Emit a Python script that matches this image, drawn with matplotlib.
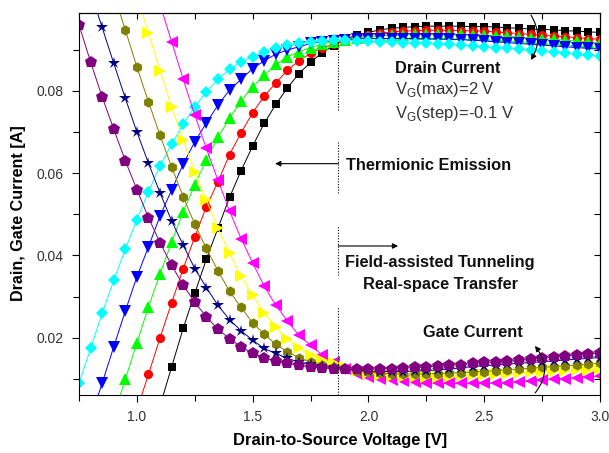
import numpy as np
import matplotlib
matplotlib.use("Agg")
import matplotlib.pyplot as plt
from matplotlib.ticker import MultipleLocator, FormatStrFormatter

# ---------------- data ----------------
vds = [0.75, 0.80, 0.85, 0.90, 0.95, 1.00, 1.05, 1.10, 1.15, 1.20, 1.25, 1.30,
       1.35, 1.40, 1.45, 1.50, 1.55, 1.60, 1.65, 1.70, 1.75, 1.80, 1.85, 1.90,
       1.95, 2.00, 2.05, 2.10, 2.15, 2.20, 2.25, 2.30, 2.35, 2.40, 2.45, 2.50,
       2.55, 2.60, 2.65, 2.70, 2.75, 2.80, 2.85, 2.90, 2.95, 3.00]

# drain currents (values start at the given start voltage)
drain_black_start = 1.10
drain_black = [0.0035, 0.0129, 0.0223, 0.0308, 0.0391, 0.0466, 0.0541, 0.0606, 0.0666,
               0.0721, 0.0767, 0.0807, 0.0842, 0.0869, 0.0893, 0.0909, 0.0926, 0.0935,
               0.0942, 0.0948, 0.0952, 0.0954, 0.0956, 0.0957, 0.0957, 0.0957, 0.0957,
               0.0956, 0.0956, 0.0955, 0.0953, 0.0952, 0.0950, 0.0949, 0.0948, 0.0946,
               0.0945, 0.0943, 0.0942]
drain_red_start = 1.00
drain_red = [0.0025, 0.0111, 0.0200, 0.0285, 0.0368, 0.0445, 0.0518, 0.0579, 0.0645,
             0.0698, 0.0747, 0.0787, 0.0819, 0.0850, 0.0873, 0.0891, 0.0905, 0.0913,
             0.0924, 0.0931, 0.0936, 0.0940, 0.0943, 0.0945, 0.0946, 0.0947, 0.0947,
             0.0947, 0.0946, 0.0946, 0.0945, 0.0943, 0.0941, 0.0939, 0.0937, 0.0935,
             0.0933, 0.0931, 0.0929, 0.0927, 0.0925]
drain_green_start = 0.90
drain_green = [0.0012, 0.0099, 0.0188, 0.0275, 0.0355, 0.0433, 0.0506, 0.0572, 0.0632,
               0.0687, 0.0733, 0.0776, 0.0810, 0.0838, 0.0864, 0.0883, 0.0895, 0.0905,
               0.0913, 0.0919, 0.0924, 0.0928, 0.0931, 0.0933, 0.0935, 0.0936, 0.0937,
               0.0937, 0.0937, 0.0937, 0.0937, 0.0936, 0.0935, 0.0934, 0.0932, 0.0931,
               0.0929, 0.0927, 0.0925, 0.0923, 0.0921, 0.0919, 0.0917]
drain_blue_start = 0.80
drain_blue = [0.0005, 0.0090, 0.0178, 0.0265, 0.0348, 0.0421, 0.0496, 0.0559, 0.0622,
              0.0676, 0.0722, 0.0765, 0.0802, 0.0828, 0.0854, 0.0873, 0.0889, 0.0899,
              0.0907, 0.0915, 0.0919, 0.0922, 0.0924, 0.0926, 0.0927, 0.0927, 0.0927,
              0.0927, 0.0927, 0.0926, 0.0926, 0.0925, 0.0924, 0.0923, 0.0921, 0.0919,
              0.0917, 0.0915, 0.0913, 0.0911, 0.0909, 0.0907, 0.0905, 0.0903, 0.0901]
drain_cyan_start = 0.75
drain_cyan = [0.0089, 0.0174, 0.0259, 0.0340, 0.0415, 0.0487, 0.0555, 0.0618, 0.0670,
              0.0719, 0.0761, 0.0798, 0.0828, 0.0852, 0.0870, 0.0883, 0.0895, 0.0905,
              0.0911, 0.0915, 0.0919, 0.0922, 0.0923, 0.0923, 0.0922, 0.0921, 0.0919,
              0.0918, 0.0917, 0.0916, 0.0915, 0.0914, 0.0913, 0.0911, 0.0909, 0.0907,
              0.0905, 0.0903, 0.0901, 0.0899, 0.0897, 0.0894, 0.0892, 0.0889, 0.0886,
              0.0884]

# gate currents
gate_magenta_start = 1.10
gate_magenta = [0.1010, 0.0919, 0.0828, 0.0741, 0.0660, 0.0583, 0.0508, 0.0441, 0.0382,
                0.0325, 0.0279, 0.0241, 0.0206, 0.0182, 0.0158, 0.0141, 0.0125, 0.0112,
                0.0105, 0.0100, 0.0097, 0.0094, 0.0092, 0.0091, 0.0090, 0.0089, 0.0089,
                0.0089, 0.0089, 0.0090, 0.0091, 0.0093, 0.0095, 0.0097, 0.0099, 0.0101,
                0.0103, 0.0105, 0.0107]
gate_yellow_start = 1.00
gate_yellow = [0.1031, 0.0940, 0.0849, 0.0761, 0.0680, 0.0603, 0.0534, 0.0466, 0.0406,
               0.0350, 0.0303, 0.0260, 0.0226, 0.0196, 0.0174, 0.0158, 0.0146, 0.0139,
               0.0128, 0.0120, 0.0114, 0.0110, 0.0107, 0.0105, 0.0104, 0.0104, 0.0104,
               0.0105, 0.0107, 0.0109, 0.0110, 0.0111, 0.0113, 0.0114, 0.0116, 0.0117,
               0.0119, 0.0120, 0.0121, 0.0122, 0.0124]
gate_olive_start = 0.90
gate_olive = [0.1035, 0.0948, 0.0858, 0.0773, 0.0692, 0.0615, 0.0543, 0.0476, 0.0417,
              0.0363, 0.0313, 0.0274, 0.0236, 0.0209, 0.0184, 0.0166, 0.0152, 0.0141,
              0.0133, 0.0129, 0.0124, 0.0119, 0.0116, 0.0114, 0.0113, 0.0112, 0.0112,
              0.0112, 0.0113, 0.0114, 0.0115, 0.0117, 0.0118, 0.0120, 0.0122, 0.0124,
              0.0126, 0.0128, 0.0130, 0.0132, 0.0134, 0.0136, 0.0138]
gate_navy_start = 0.80
gate_navy = [0.1040, 0.0954, 0.0867, 0.0782, 0.0700, 0.0624, 0.0552, 0.0484, 0.0425,
             0.0368, 0.0322, 0.0279, 0.0244, 0.0217, 0.0194, 0.0174, 0.0162, 0.0150,
             0.0141, 0.0136, 0.0131, 0.0128, 0.0124, 0.0121, 0.0119, 0.0118, 0.0118,
             0.0118, 0.0119, 0.0120, 0.0122, 0.0124, 0.0127, 0.0130, 0.0132, 0.0134,
             0.0136, 0.0138, 0.0140, 0.0142, 0.0144, 0.0146, 0.0148, 0.0150, 0.0152]
gate_purple_start = 0.75
gate_purple = [0.0960, 0.0870, 0.0785, 0.0707, 0.0630, 0.0560, 0.0492, 0.0431, 0.0376,
               0.0328, 0.0286, 0.0251, 0.0221, 0.0198, 0.0178, 0.0163, 0.0151, 0.0143,
               0.0138, 0.0133, 0.0129, 0.0127, 0.0125, 0.0124, 0.0124, 0.0124, 0.0125,
               0.0125, 0.0126, 0.0128, 0.0129, 0.0131, 0.0133, 0.0135, 0.0138, 0.0140,
               0.0141, 0.0143, 0.0145, 0.0148, 0.0150, 0.0153, 0.0156, 0.0158, 0.0160,
               0.0163]

x_ticks = [1.0, 1.5, 2.0, 2.5, 3.0]
y_ticks = [0.02, 0.04, 0.06, 0.08]

# ---------------- figure ----------------
plt.rcParams['font.family'] = ['Liberation Sans', 'DejaVu Sans']
plt.rcParams['mathtext.fontset'] = 'custom'
plt.rcParams['mathtext.rm'] = 'Liberation Sans'
fig = plt.figure(figsize=(6.09, 4.53), dpi=100)
ax = fig.add_axes([79 / 609, 58 / 453, 521 / 609, 382 / 453])


def series_x(start, vals):
    i0 = vds.index(start)
    return vds[i0:i0 + len(vals)]


drain = [
    (drain_black_start, drain_black, '#000000', 's', 6.3),
    (drain_red_start, drain_red, '#FF0000', 'o', 6.6),
    (drain_green_start, drain_green, '#00FF00', '^', 8.3),
    (drain_blue_start, drain_blue, '#0000FF', 'v', 8.3),
    (drain_cyan_start, drain_cyan, '#00FFFF', 'D', 6.0),
]
gate = [
    (gate_magenta_start, gate_magenta, '#FF00FF', '<', 8.3),
    (gate_yellow_start, gate_yellow, '#FFFF00', '>', 8.3),
    (gate_olive_start, gate_olive, '#808000', 'h', 7.4),
    (gate_navy_start, gate_navy, '#000080', '*', 8.6),
    (gate_purple_start, gate_purple, '#800080', 'p', 8.8),
]

for start, vals, col, mk, ms in drain + gate:
    ax.plot(series_x(start, vals), vals, color=col, lw=0.7, marker=mk, ms=ms,
            markeredgewidth=0, clip_on=True)

ax.set_xlim(0.75, 3.0)
ax.set_ylim(0.0061, 0.0989)

ax.xaxis.set_major_locator(plt.FixedLocator(x_ticks))
ax.xaxis.set_minor_locator(MultipleLocator(0.25))
ax.yaxis.set_major_locator(plt.FixedLocator(y_ticks))
ax.yaxis.set_minor_locator(MultipleLocator(0.01))
ax.xaxis.set_major_formatter(FormatStrFormatter('%.1f'))
ax.yaxis.set_major_formatter(FormatStrFormatter('%.2f'))
ax.tick_params(which='both', direction='out', width=0.8, labelsize=10,
               labelcolor='#333333', pad=6)
ax.tick_params(which='major', length=5)
ax.tick_params(which='minor', length=4.5)
for sp in ax.spines.values():
    sp.set_linewidth(0.8)

# inward mirrored ticks on top and right
axt = ax.secondary_xaxis('top')
axt.xaxis.set_major_locator(plt.FixedLocator(x_ticks))
axt.xaxis.set_minor_locator(MultipleLocator(0.25))
axt.tick_params(which='both', direction='in', length=4, width=0.8, labeltop=False)
axr = ax.secondary_yaxis('right')
axr.yaxis.set_major_locator(plt.FixedLocator(y_ticks))
axr.yaxis.set_minor_locator(MultipleLocator(0.01))
axr.tick_params(which='both', direction='in', length=4, width=0.8, labelright=False)

ax.set_xlabel('Drain-to-Source Voltage [V]', fontsize=11.9, fontweight='bold')
ax.xaxis.set_label_coords(0.501, -0.120)
ax.xaxis.label.set_va('center')
ax.set_ylabel('Drain, Gate Current [A]', fontsize=11.6, fontweight='bold')
ax.yaxis.set_label_coords(-0.117, 0.476)
ax.yaxis.label.set_va('center')

# dotted separator
vline_x = 1.87
for y0, y1 in [(0.0753, 0.0916), (0.0551, 0.0675), (0.0352, 0.0474), (0.0061, 0.0274)]:
    ax.plot([vline_x, vline_x], [y0, y1], color='black', lw=0.8, ls=(0, (1, 1.5)))

# annotations
bold = dict(fontsize=11.8, fontweight='bold', color='#111111')
ax.annotate('', xy=(1.597, 0.0623), xytext=(vline_x, 0.0623),
            arrowprops=dict(arrowstyle='-|>', color='black', lw=0.8,
                            mutation_scale=8, shrinkA=0, shrinkB=0))
ax.text(1.903, 0.0619, 'Thermionic Emission', ha='left', va='center', **bold)
ax.annotate('', xy=(2.128, 0.0423), xytext=(vline_x, 0.0423),
            arrowprops=dict(arrowstyle='-|>', color='black', lw=0.8,
                            mutation_scale=8, shrinkA=0, shrinkB=0))
ax.text(2.309, 0.0382, 'Field-assisted Tunneling', ha='center', va='center', **bold)
ax.text(2.313, 0.0330, 'Real-space Transfer', ha='center', va='center', **bold)
ax.text(2.115, 0.0853, 'Drain Current', ha='left', va='center', **bold)
ax.text(2.115, 0.0802, r'V$_\mathregular{G}$(max)=2 V', fontsize=12,
        color='#333333', ha='left', va='center')
ax.text(2.115, 0.0746, r'V$_\mathregular{G}$(step)=-0.1 V', fontsize=12,
        color='#333333', ha='left', va='center')
ax.text(2.236, 0.0212, 'Gate Current', ha='left', va='center', **bold)

# curved arrows showing V_G direction
ax.annotate('', xy=(2.702, 0.0875), xytext=(2.702, 0.0984),
            arrowprops=dict(arrowstyle='-|>', color='black', lw=0.8,
                            mutation_scale=8, shrinkA=0, shrinkB=0,
                            connectionstyle='arc3,rad=-0.3'))
ax.annotate('', xy=(2.719, 0.0180), xytext=(2.72, 0.0066),
            arrowprops=dict(arrowstyle='-|>', color='black', lw=0.8,
                            mutation_scale=8, shrinkA=0, shrinkB=0,
                            connectionstyle='arc3,rad=0.4'))

fig.savefig('out.png', dpi=100)
